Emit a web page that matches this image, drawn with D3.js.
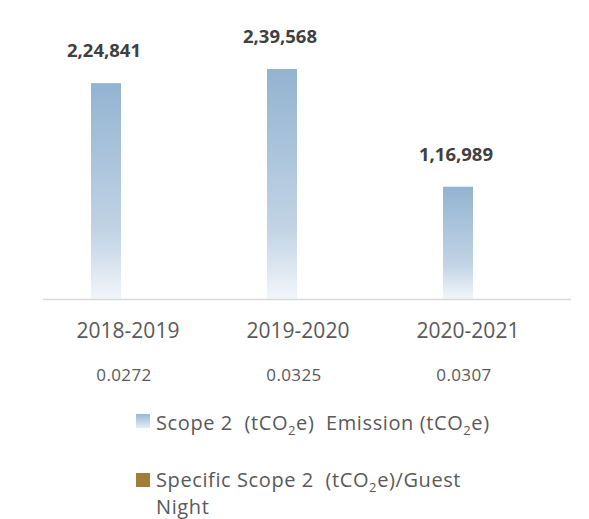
<!DOCTYPE html>
<html><head><meta charset="utf-8">
<script src="https://cdn.jsdelivr.net/npm/d3@7"></script>
<style>
html,body{margin:0;padding:0;background:#fff;}
svg{display:block;font-family:"Open Sans",sans-serif;}
</style></head>
<body><svg id="c" width="589" height="519"></svg>
<script>
const categories = ["2018-2019", "2019-2020", "2020-2021"];
const scope2Values = [224841, 239568, 116989];
const scope2Labels = ["2,24,841", "2,39,568", "1,16,989"];
const specificValues = [0.0272, 0.0325, 0.0307];
const specificLabels = ["0.0272", "0.0325", "0.0307"];
const seriesNames = ["scope2", "specific"];

const svg = d3.select("#c");
const defs = svg.append("defs");
const g1 = defs.append("linearGradient").attr("id","barGrad").attr("x1",0).attr("y1",0).attr("x2",0).attr("y2",1);
g1.append("stop").attr("offset","0%").attr("stop-color","#93b3d1");
g1.append("stop").attr("offset","70%").attr("stop-color","#c2d4e5");
g1.append("stop").attr("offset","100%").attr("stop-color","#f2f6fa");
const g2 = defs.append("linearGradient").attr("id","swGrad").attr("x1",0).attr("y1",0).attr("x2",0).attr("y2",1);
g2.append("stop").attr("offset","0%").attr("stop-color","#98b8d6");
g2.append("stop").attr("offset","100%").attr("stop-color","#e4edf6");

const baseY = 299;
const x = d3.scaleBand().domain(categories).range([43, 571]);
const xs = d3.scaleBand().domain(seriesNames).range([x.bandwidth()/2 - 40, x.bandwidth()/2 + 40]).paddingInner(0.4);
const y = d3.scaleLinear().domain([0, 250000]).range([baseY, baseY - 240]);
const xt = d3.scaleBand().domain(categories).range([43, 553]);

// bars
svg.selectAll("rect.bar").data(categories).enter().append("rect")
  .attr("class","bar")
  .attr("x", (d)=> x(d) + xs("scope2"))
  .attr("width", xs.bandwidth())
  .attr("y", (d,i)=> y(scope2Values[i]))
  .attr("height", (d,i)=> baseY - y(scope2Values[i]))
  .attr("fill","url(#barGrad)");

// axis line
svg.append("line").attr("x1",43).attr("x2",571).attr("y1",baseY+0.5).attr("y2",baseY+0.5)
  .attr("stroke","#d9d9d9").attr("stroke-width",1.5);

// data labels
svg.selectAll("text.dl").data(categories).enter().append("text")
  .attr("class","dl")
  .attr("x",(d)=> x(d) + xs("scope2") + xs.bandwidth()/2 - 2)
  .attr("y",(d,i)=> y(scope2Values[i]) - 26)
  .attr("text-anchor","middle")
  .attr("font-size","18.5px").attr("font-weight","bold").attr("fill","#404040")
  .text((d,i)=> scope2Labels[i]);

// category labels
svg.selectAll("text.cat").data(categories).enter().append("text")
  .attr("class","cat")
  .attr("x",(d)=> xt(d) + xt.bandwidth()/2)
  .attr("y", 338)
  .attr("text-anchor","middle")
  .attr("font-size","21px").attr("fill","#595959")
  .text(d=>d);

// specific values
svg.selectAll("text.sv").data(categories).enter().append("text")
  .attr("class","sv")
  .attr("x",(d)=> xt(d) + xt.bandwidth()/2 - 4)
  .attr("y", 381)
  .attr("text-anchor","middle")
  .attr("font-size","17px").attr("letter-spacing","0.4px").attr("fill","#595959")
  .text((d,i)=> specificLabels[i]);

// legend
const leg = svg.append("g").attr("font-size","20px").attr("letter-spacing","0.6px").attr("fill","#595959");
leg.append("rect").attr("x",136).attr("y",414).attr("width",14).attr("height",14).attr("fill","url(#swGrad)");
const t1 = leg.append("text").attr("x",156).attr("y",430).style("white-space","pre");
t1.append("tspan").text("Scope 2  (tCO");
t1.append("tspan").attr("font-size","13px").attr("dy",5).text("2");
t1.append("tspan").attr("dy",-5).text("e)  Emission (tCO");
t1.append("tspan").attr("font-size","13px").attr("dy",5).text("2");
t1.append("tspan").attr("dy",-5).text("e)");

leg.append("rect").attr("x",136).attr("y",473).attr("width",14).attr("height",14).attr("fill","#a27d3a");
const t2 = leg.append("text").attr("x",156).attr("y",487).style("white-space","pre");
t2.append("tspan").text("Specific Scope 2  (tCO");
t2.append("tspan").attr("font-size","13px").attr("dy",5).text("2");
t2.append("tspan").attr("dy",-5).text("e)/Guest");
leg.append("text").attr("x",156).attr("y",514).text("Night");
</script></body></html>
